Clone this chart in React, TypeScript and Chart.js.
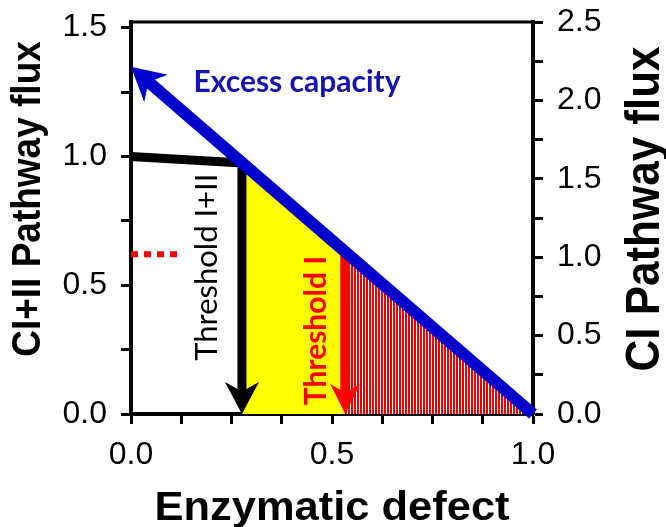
import React, { useEffect, useRef } from 'react';
import { Chart, registerables } from 'chart.js';
Chart.register(...registerables);

// ---- data ----
const xTickValues = [0, 0.125, 0.25, 0.375, 0.5, 0.625, 0.75, 0.875, 1.0];
const xTickLabels = ['0.0', '', '', '', '0.5', '', '', '', '1.0'];
const leftTickValues = [0, 0.25, 0.5, 0.75, 1.0, 1.25, 1.5];
const leftTickLabels = ['0.0', '', '0.5', '', '1.0', '', '1.5'];
const rightTickValues = [0, 0.25, 0.5, 0.75, 1.0, 1.25, 1.5, 1.75, 2.0, 2.25, 2.5];
const rightTickLabels = ['0.0', '', '0.5', '', '1.0', '', '1.5', '', '2.0', '', '2.5'];

const excessCapacityLine = [{ x: 1.0, y: 0 }, { x: 0, y: 1.348 }];
const thresholdIIIPath = [{ x: 0, y: 1.0 }, { x: 0.276, y: 0.975 }, { x: 0.276, y: 0 }];
const thresholdIPath = [{ x: 0.533, y: 0.62 }, { x: 0.533, y: 0 }];
const yellowTop = [{ x: 0.276, y: 0.976 }, { x: 0.533, y: 0.629 }];
const hatchTop = [{ x: 0.533, y: 0.629 }, { x: 1.0, y: 0 }];
const dottedLeft = [{ x: 0, y: 0.62 }, { x: 0.115, y: 0.62 }];
const dottedRight = [{ x: 0.276, y: 0.62 }, { x: 0.533, y: 0.62 }];

const excessLabel = { text: 'Excess capacity', x: 0.413, y: 1.286 };
const thrIIILabel = { text: 'Threshold I+II', x: 0.189, y: 0.57 };
const thrILabel = { text: 'Threshold I', x: 0.46, y: 0.324 };

const SANS = '"Liberation Sans", Arial, sans-serif';
const HUMAN = 'Lato, "Open Sans", sans-serif';

function labelFor(values: number[], labels: string[]) {
  return (v: any) => {
    const i = values.findIndex((t) => Math.abs(t - Number(v)) < 1e-6);
    return i >= 0 ? labels[i] : '';
  };
}

function drawArrow(ctx: CanvasRenderingContext2D, pts: number[][], color: string, width: number, headLen: number, headHalf: number) {
  const n = pts.length;
  const [ex, ey] = pts[n - 1];
  const [px, py] = pts[n - 2];
  const L = Math.hypot(ex - px, ey - py);
  const ux = (ex - px) / L, uy = (ey - py) / L;
  const nx = -uy, ny = ux;
  ctx.save();
  ctx.strokeStyle = color;
  ctx.fillStyle = color;
  ctx.lineWidth = width;
  ctx.lineJoin = 'miter';
  ctx.lineCap = 'butt';
  ctx.beginPath();
  ctx.moveTo(pts[0][0], pts[0][1]);
  for (let i = 1; i < n - 1; i++) ctx.lineTo(pts[i][0], pts[i][1]);
  ctx.lineTo(ex - ux * headLen * 0.6, ey - uy * headLen * 0.6);
  ctx.stroke();
  const bx = ex - ux * headLen, by = ey - uy * headLen;
  const mx = ex - ux * headLen * 0.7, my = ey - uy * headLen * 0.7;
  ctx.beginPath();
  ctx.moveTo(ex, ey);
  ctx.lineTo(bx + nx * headHalf, by + ny * headHalf);
  ctx.lineTo(mx, my);
  ctx.lineTo(bx - nx * headHalf, by - ny * headHalf);
  ctx.closePath();
  ctx.fill();
  ctx.restore();
}

export default function App() {
  const ref = useRef<HTMLCanvasElement | null>(null);
  useEffect(() => {
    const canvas = ref.current!;
    const pc = document.createElement('canvas');
    pc.width = 3; pc.height = 1;
    const pctx = pc.getContext('2d')!;
    pctx.fillStyle = '#ffffff'; pctx.fillRect(0, 0, 3, 1);
    pctx.fillStyle = '#e60000'; pctx.fillRect(0, 0, 2, 1);
    const hatch = canvas.getContext('2d')!.createPattern(pc, 'repeat')!;

    const overlay = {
      id: 'overlay',
      afterDatasetsDraw(chart: any) {
        const ctx = chart.ctx as CanvasRenderingContext2D;
        const xs = chart.scales.x, ys = chart.scales.y;
        const P = (arr: { x: number; y: number }[]) => arr.map((p) => [xs.getPixelForValue(p.x), ys.getPixelForValue(p.y)]);
        drawArrow(ctx, P(thresholdIPath), '#ff0000', 10, 30, 15);
        drawArrow(ctx, P(thresholdIIIPath), '#000000', 9, 32, 17);
        drawArrow(ctx, P(excessCapacityLine), '#0000cc', 12, 33, 18);

        // annotation texts
        ctx.save();
        ctx.fillStyle = '#1414b4';
        ctx.font = `bold 30px ${HUMAN}`;
        ctx.textAlign = 'center';
        ctx.textBaseline = 'middle';
        ctx.fillText(excessLabel.text, xs.getPixelForValue(excessLabel.x), ys.getPixelForValue(excessLabel.y));
        ctx.restore();

        const vtext = (lab: any, color: string, font: string) => {
          ctx.save();
          ctx.translate(xs.getPixelForValue(lab.x), ys.getPixelForValue(lab.y));
          ctx.rotate(-Math.PI / 2);
          ctx.fillStyle = color;
          ctx.font = font;
          ctx.textAlign = 'center';
          ctx.textBaseline = 'middle';
          ctx.fillText(lab.text, 0, 0);
          ctx.restore();
        };
        vtext(thrIIILabel, '#000000', `31px ${HUMAN}`);
        vtext(thrILabel, '#ff0000', `bold 30px ${HUMAN}`);
      },
      afterDraw(chart: any) {
        const ctx = chart.ctx as CanvasRenderingContext2D;
        const a = chart.chartArea;
        ctx.save();
        ctx.strokeStyle = '#000';
        ctx.lineWidth = 3;
        ctx.beginPath();
        ctx.moveTo(a.left - 2, a.top);
        ctx.lineTo(a.right + 2, a.top);
        ctx.stroke();
        ctx.fillStyle = '#000';
        ctx.save();
        ctx.translate((a.left + a.right) / 2, 520);
        ctx.scale(1.06, 1);
        ctx.textAlign = 'center';
        ctx.textBaseline = 'alphabetic';
        ctx.font = `bold 41px ${SANS}`;
        ctx.fillText('Enzymatic defect', 0, 0);
        ctx.restore();
        const vt = (text: string, cx: number, cy: number, size: number) => {
          ctx.save();
          ctx.translate(cx, cy);
          ctx.scale(1.08, 1);
          ctx.rotate(-Math.PI / 2);
          ctx.font = `bold ${size}px ${SANS}`;
          ctx.textAlign = 'center';
          ctx.textBaseline = 'middle';
          ctx.fillText(text, 0, 0);
          ctx.restore();
        };
        vt('CI+II Pathway flux', 29, 199, 37);
        vt('CI Pathway flux', 646, 209, 44);
        ctx.restore();
      },
    };

    const tickFont = { family: SANS, size: 32 };
    const gridCfg = { drawOnChartArea: false, drawTicks: true, tickLength: 10, tickWidth: 3, tickColor: '#000' };
    const borderCfg = { display: true, width: 4, color: '#000' };
    const noPadY = (w: number) => (s: any) => { s.width = w; s.paddingTop = 0; s.paddingBottom = 0; };

    const chart = new Chart(canvas, {
      type: 'line',
      data: {
        datasets: [
          { data: yellowTop, borderWidth: 0, pointRadius: 0, fill: 'origin', backgroundColor: '#ffff00', borderColor: 'transparent' },
          { data: hatchTop, borderWidth: 0, pointRadius: 0, fill: 'origin', backgroundColor: hatch as any, borderColor: 'transparent' },
          { data: dottedLeft, borderWidth: 6, borderDash: [7, 6], borderColor: '#ff0000', pointRadius: 0, fill: false },
          { data: dottedRight, borderWidth: 6, borderDash: [7, 6], borderColor: '#ff0000', pointRadius: 0, fill: false },
        ] as any,
      },
      options: {
        responsive: false,
        animation: false,
        events: [],
        parsing: false as any,
        layout: { padding: { top: 22, left: 0, right: 0, bottom: 0 } },
        plugins: { legend: { display: false }, tooltip: { enabled: false } },
        scales: {
          x: {
            type: 'linear', min: 0, max: 1,
            afterBuildTicks: (s: any) => { s.ticks = xTickValues.map((v) => ({ value: v })); },
            afterFit: (s: any) => { s.height = 113; s.paddingLeft = 0; s.paddingRight = 0; },
            ticks: { font: tickFont, color: '#000', padding: 12, maxRotation: 0, autoSkip: false, callback: labelFor(xTickValues, xTickLabels) },
            grid: gridCfg, border: borderCfg,
          },
          y: {
            type: 'linear', position: 'left', min: 0, max: 1.522,
            afterBuildTicks: (s: any) => { s.ticks = leftTickValues.map((v) => ({ value: v })); },
            afterFit: noPadY(131),
            ticks: { font: tickFont, color: '#000', padding: 14, autoSkip: false, callback: labelFor(leftTickValues, leftTickLabels) },
            grid: gridCfg, border: borderCfg,
          },
          y2: {
            type: 'linear', position: 'right', min: 0, max: 2.5,
            afterBuildTicks: (s: any) => { s.ticks = rightTickValues.map((v) => ({ value: v })); },
            afterFit: noPadY(133),
            ticks: { font: tickFont, color: '#000', padding: 14, autoSkip: false, callback: labelFor(rightTickValues, rightTickLabels) },
            grid: gridCfg, border: borderCfg,
          },
        },
      } as any,
      plugins: [overlay],
    });
    return () => chart.destroy();
  }, []);

  return (
    <div style={{ position: 'absolute', left: 0, top: 0, width: 666, height: 527, background: '#fff' }}>
      <canvas ref={ref} width={666} height={527} style={{ display: 'block', width: 666, height: 527 }} />
    </div>
  );
}
